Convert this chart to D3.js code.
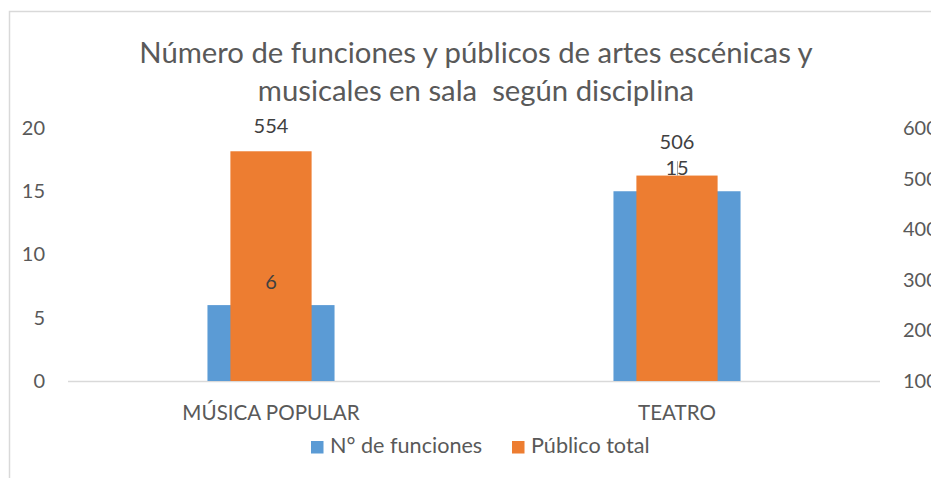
<!DOCTYPE html>
<html>
<head>
<meta charset="utf-8">
<script src="https://cdn.jsdelivr.net/npm/d3@7"></script>
<style>
  html, body { margin: 0; padding: 0; background: #fff; }
  svg { display: block; }
  text { font-family: Lato, "Open Sans", sans-serif; }
</style>
</head>
<body>
<div id="chart"></div>
<script>
// ---- data ----
const categories = ["MÚSICA POPULAR", "TEATRO"];
const funciones = [6, 15];
const publico = [554, 506];
const leftTicks = [0, 5, 10, 15, 20];
const rightTicks = [100, 200, 300, 400, 500, 600];
const titleLines = ["Número de funciones y públicos de artes escénicas y", "musicales en sala  según disciplina"];
const seriesNames = ["N° de funciones", "Público total"];

// ---- layout ----
const W = 931, H = 478;
const plot = { left: 68, right: 880, top: 128, bottom: 381 };
const blue = "#5B9BD5", orange = "#ED7D31", textCol = "#595959", labelCol = "#404040", gridCol = "#D9D9D9";

const svg = d3.select("#chart").append("svg").attr("width", W).attr("height", H);

// chart border (cut off at right/bottom like the reference)
svg.append("path")
  .attr("d", `M9.5,${H + 2} V11.5 H${W + 2}`)
  .attr("fill", "none").attr("stroke", gridCol).attr("stroke-width", 1.5);

const x = d3.scaleBand().domain(categories).range([plot.left, plot.right]);
const yL = d3.scaleLinear().domain([0, 20]).range([plot.bottom, plot.top]);
const yR = d3.scaleLinear().domain([100, 600]).range([plot.bottom, plot.top]);

// title
const title = svg.append("text").attr("text-anchor", "middle").attr("fill", textCol)
  .attr("font-size", 29.3).attr("xml:space", "preserve");
titleLines.forEach((t, i) => {
  title.append("tspan").attr("x", 476).attr("y", 63 + i * 38).style("white-space", "pre").text(t);
});

// left axis
const axL = d3.axisLeft(yL).tickValues(leftTicks).tickSize(0).tickPadding(0);
const gL = svg.append("g").attr("transform", `translate(45,0)`).call(axL);
gL.select(".domain").remove();
gL.selectAll("text").attr("fill", textCol).attr("font-size", 20).attr("font-family", "Lato");

// right axis (cut off by the right edge, as in the reference)
const axR = d3.axisRight(yR).tickValues(rightTicks).tickSize(0).tickPadding(0);
const gR = svg.append("g").attr("transform", `translate(903,0)`).call(axR);
gR.select(".domain").remove();
gR.selectAll("text").attr("fill", textCol).attr("font-size", 20).attr("font-family", "Lato");

// baseline
svg.append("line")
  .attr("x1", plot.left).attr("x2", plot.right)
  .attr("y1", plot.bottom + 0.5).attr("y2", plot.bottom + 0.5)
  .attr("stroke", gridCol).attr("stroke-width", 1.5);

const blueW = x.bandwidth() * 0.313;
const orangeW = x.bandwidth() * 0.2;
const cx = c => x(c) + x.bandwidth() / 2;

// blue bars (primary axis)
svg.append("g").selectAll("rect").data(categories).join("rect")
  .attr("x", c => cx(c) - blueW / 2)
  .attr("width", blueW)
  .attr("y", (c, i) => yL(funciones[i]))
  .attr("height", (c, i) => yL(0) - yL(funciones[i]))
  .attr("fill", blue);

// orange bars (secondary axis)
svg.append("g").selectAll("rect").data(categories).join("rect")
  .attr("x", c => cx(c) - orangeW / 2)
  .attr("width", orangeW)
  .attr("y", (c, i) => yR(publico[i]))
  .attr("height", (c, i) => yR(100) - yR(publico[i]))
  .attr("fill", orange);

// data labels
const blueLabelY = categories.map((c, i) => yL(funciones[i]) - 16);
categories.forEach((c, i) => {
  const by = blueLabelY[i];
  let oy = yR(publico[i]) - 18;
  if (Math.abs(oy - by) < 22) oy = by - 26;
  if (oy > yR(publico[i]) - 18) oy = yR(publico[i]) - 18;
  // leader line when label pushed away
  if (yR(publico[i]) - oy > 26) {
    svg.append("line")
      .attr("x1", cx(c) + 0.5).attr("x2", cx(c) + 0.5)
      .attr("y1", yR(publico[i])).attr("y2", by - 14)
      .attr("stroke", "#A6A6A6").attr("stroke-width", 1);
  }
  svg.append("text").attr("x", cx(c)).attr("y", by)
    .attr("text-anchor", "middle").attr("fill", labelCol).attr("font-size", 20)
    .text(funciones[i]);
  svg.append("text").attr("x", cx(c)).attr("y", oy)
    .attr("text-anchor", "middle").attr("fill", labelCol).attr("font-size", 20)
    .text(publico[i]);
});

// category labels
svg.append("g").selectAll("text").data(categories).join("text")
  .attr("x", c => cx(c)).attr("y", 420)
  .attr("text-anchor", "middle").attr("fill", textCol).attr("font-size", 20.6)
  .text(c => c);

// legend
const legend = [
  { name: seriesNames[0], color: blue, x: 311 },
  { name: seriesNames[1], color: orange, x: 512 }
];
const lg = svg.append("g").selectAll("g").data(legend).join("g")
  .attr("transform", d => `translate(${d.x},441)`);
lg.append("rect").attr("width", 12.5).attr("height", 12.5).attr("fill", d => d.color);
lg.append("text").attr("x", 19).attr("y", 12).attr("fill", textCol).attr("font-size", 21.6).text(d => d.name);
</script>
</body>
</html>
